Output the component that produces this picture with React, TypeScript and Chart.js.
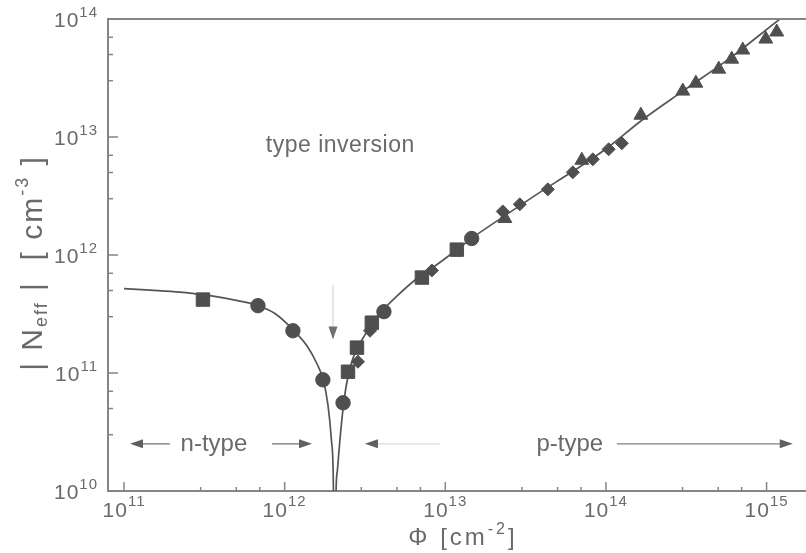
import React, { useEffect, useRef } from "react";
import { Chart, registerables } from "chart.js";

Chart.register(...registerables);

// ---- axes ----
const X_MIN = 7.95e10;
const X_MAX = 1.76e15;
const Y_MIN = 1e10;
const Y_MAX = 1e14;
const X_MAJOR_TICKS = [1e11, 1e12, 1e13, 1e14, 1e15];
const Y_MAJOR_TICKS = [1e10, 1e11, 1e12, 1e13, 1e14];
const MINOR_MULTIPLES = [3, 5, 7];

// ---- fitted curve ----
const fitPhi = [
  1.0e11, 1.451e11, 2.231e11, 3.43e11, 5.27e11, 6.82e11, 8.7e11, 1.126e12, 1.376e12, 1.589e12,
  1.731e12, 1.86e12, 1.955e12, 2.006e12, 2.05e12, 2.09e12, 2.131e12, 2.209e12, 2.306e12, 2.424e12,
  2.586e12, 2.818e12, 3.114e12, 3.494e12, 4.03e12, 4.997e12, 6.66e12, 8.37e12, 1.068e13, 1.485e13,
  2.417e13, 3.879e13, 6.223e13, 1.013e14, 1.673e14, 3.01e14, 6.16e14, 1.261e15, 1.498e15,
];
const fitNeff = [
  5.19e11, 5.04e11, 4.85e11, 4.53e11, 4.07e11, 3.72e11, 3.19e11, 2.33e11, 1.7e11, 1.198e11,
  8.94e10, 5.38e10, 2.71e10, 1.367e10, 1e9, 1.0e10, 1.508e10, 2.71e10, 4.87e10, 7.95e10,
  1.175e11, 1.607e11, 2.032e11, 2.62e11, 3.345e11, 4.485e11, 6.32e11, 7.83e11, 1.0e12, 1.408e12,
  2.208e12, 3.395e12, 5.118e12, 8.03e12, 1.388e13, 2.446e13, 4.85e13, 1.04e14, 1.228e14,
];

// ---- measured points ----
const squarePhi = [3.1e11, 2.48e12, 2.82e12, 3.49e12, 7.15e12, 1.18e13];
const squareNeff = [4.19e11, 1.025e11, 1.64e11, 2.67e11, 6.44e11, 1.11e12];

const circlePhi = [6.82e11, 1.126e12, 1.73e12, 2.31e12, 4.15e12, 1.46e13];
const circleNeff = [3.72e11, 2.28e11, 8.76e10, 5.59e10, 3.31e11, 1.38e12];

const diamondPhi = [2.86e12, 3.4e12, 8.25e12, 2.28e13, 2.91e13, 4.35e13, 6.22e13, 8.29e13, 1.04e14, 1.256e14];
const diamondNeff = [1.246e11, 2.28e11, 7.39e11, 2.34e12, 2.69e12, 3.6e12, 5.02e12, 6.47e12, 7.87e12, 8.85e12];

const trianglePhi = [2.35e13, 7.08e13, 1.65e14, 3.01e14, 3.63e14, 5.04e14, 6.07e14, 7.11e14, 9.89e14, 1.157e15];
const triangleNeff = [2.04e12, 6.35e12, 1.53e13, 2.45e13, 2.86e13, 3.76e13, 4.57e13, 5.46e13, 6.76e13, 7.76e13];

// ---- annotation anchors (data coordinates) ----
const INVERSION_LABEL = { phi: 2.22e12, neff: 7.42e12, text: "type inversion" };
const INVERSION_ARROW = { phi: 2.0e12, from: 5.6e11, to: 1.92e11 };
const REGION_ARROW_NEFF = 2.51e10;
const REGION_LABEL_NEFF = 2.19e10;
const N_TYPE = { text: "n-type", center: 3.63e11, leftTip: 1.09e11, leftTail: 1.93e11, rightTail: 8.34e11, rightTip: 1.48e12 };
const P_TYPE = { text: "p-type", center: 5.96e13, leftTip: 3.16e12, leftTail: 9.25e12, rightTail: 1.17e14, rightTip: 1.456e15 };

// ---- styles ----
const TEXT = "#6a6a6a";
const AXIS = "#858585";
const INK = "#4f4f4f";
const FONT = "'Liberation Sans', Arial, sans-serif";

const pts = (xs: number[], ys: number[]) => xs.map((x, i) => ({ x, y: ys[i] }));

type Seg = { text: string; size: number; dy: number };

function setFont(ctx: CanvasRenderingContext2D, size: number, spacing: number) {
  ctx.font = `${size}px ${FONT}`;
  (ctx as any).letterSpacing = `${spacing}px`;
}

function richWidth(ctx: CanvasRenderingContext2D, segs: Seg[], spacing: number) {
  let w = 0;
  for (const s of segs) {
    setFont(ctx, s.size, spacing);
    w += ctx.measureText(s.text).width;
  }
  return w;
}

function drawRich(ctx: CanvasRenderingContext2D, segs: Seg[], x: number, y: number, spacing: number) {
  ctx.textAlign = "left";
  ctx.textBaseline = "alphabetic";
  let cx = x;
  for (const s of segs) {
    setFont(ctx, s.size, spacing);
    ctx.fillText(s.text, cx, y + s.dy);
    cx += ctx.measureText(s.text).width;
  }
}

function arrow(
  ctx: CanvasRenderingContext2D,
  x1: number, y1: number, x2: number, y2: number,
  lineColor: string, headColor: string, head = 13, half = 4.5,
) {
  const ang = Math.atan2(y2 - y1, x2 - x1);
  ctx.strokeStyle = lineColor;
  ctx.lineWidth = 1.4;
  ctx.beginPath();
  ctx.moveTo(x1, y1);
  ctx.lineTo(x2 - Math.cos(ang) * head * 0.6, y2 - Math.sin(ang) * head * 0.6);
  ctx.stroke();
  ctx.fillStyle = headColor;
  ctx.beginPath();
  ctx.moveTo(x2, y2);
  ctx.lineTo(x2 - Math.cos(ang) * head - Math.sin(ang) * half, y2 - Math.sin(ang) * head + Math.cos(ang) * half);
  ctx.lineTo(x2 - Math.cos(ang) * head + Math.sin(ang) * half, y2 - Math.sin(ang) * head - Math.cos(ang) * half);
  ctx.closePath();
  ctx.fill();
}

const decorPlugin = {
  id: "decor",
  afterDraw(chart: any) {
    const { ctx, chartArea: a } = chart;
    const xs = chart.scales.x;
    const ys = chart.scales.y;
    ctx.save();

    // top frame line
    ctx.strokeStyle = AXIS;
    ctx.lineWidth = 2;
    ctx.beginPath();
    ctx.moveTo(a.left, a.top);
    ctx.lineTo(a.right, a.top);
    ctx.stroke();

    // inward tick marks
    ctx.lineWidth = 1.5;
    const tickSet = (min: number, max: number) => {
      const out: { v: number; major: boolean }[] = [];
      for (let d = Math.floor(Math.log10(min)); d <= Math.ceil(Math.log10(max)); d++) {
        const p = Math.pow(10, d);
        if (p >= min && p <= max) out.push({ v: p, major: true });
        for (const m of MINOR_MULTIPLES) {
          const v = m * p;
          if (v >= min && v <= max) out.push({ v, major: false });
        }
      }
      return out;
    };
    for (const t of tickSet(X_MIN, X_MAX)) {
      const px = xs.getPixelForValue(t.v);
      const len = t.major ? 9 : 4;
      ctx.beginPath();
      ctx.moveTo(px, a.bottom);
      ctx.lineTo(px, a.bottom - len);
      ctx.stroke();
    }
    for (const t of tickSet(Y_MIN, Y_MAX)) {
      const py = ys.getPixelForValue(t.v);
      const len = t.major ? 10 : 5;
      ctx.beginPath();
      ctx.moveTo(a.left, py);
      ctx.lineTo(a.left + len, py);
      ctx.stroke();
    }

    // tick labels 10^n
    ctx.fillStyle = TEXT;
    for (const v of X_MAJOR_TICKS) {
      const px = xs.getPixelForValue(v);
      const e = String(Math.round(Math.log10(v)));
      const segs: Seg[] = [
        { text: "10", size: 21, dy: 0 },
        { text: e, size: 15, dy: -11 },
      ];
      const w = richWidth(ctx, segs, 1);
      drawRich(ctx, segs, px - w / 2, a.bottom + 26, 1);
    }
    for (const v of Y_MAJOR_TICKS) {
      const py = ys.getPixelForValue(v);
      const e = String(Math.round(Math.log10(v)));
      const segs: Seg[] = [
        { text: "10", size: 21, dy: 0 },
        { text: e, size: 15, dy: -10 },
      ];
      const w = richWidth(ctx, segs, 1);
      drawRich(ctx, segs, a.left - 10 - w, py + 8, 1);
    }

    // x-axis title: Φ [cm^-2]
    const xt: Seg[] = [
      { text: "Φ [cm", size: 24, dy: 0 },
      { text: "-2", size: 16, dy: -11 },
      { text: "]", size: 24, dy: 0 },
    ];
    const xw = richWidth(ctx, xt, 3);
    drawRich(ctx, xt, 463 - xw / 2, 545, 3);

    // y-axis title: |N_eff| [cm^-3]
    const yt: Seg[] = [
      { text: "| N", size: 30, dy: 0 },
      { text: "eff", size: 18, dy: 5 },
      { text: " |  [ cm", size: 30, dy: 0 },
      { text: "-3", size: 18, dy: -14 },
      { text: " ]", size: 30, dy: 0 },
    ];
    const yw = richWidth(ctx, yt, 2);
    ctx.save();
    ctx.translate(42, 263);
    ctx.rotate(-Math.PI / 2);
    drawRich(ctx, yt, -yw / 2, 0, 2);
    ctx.restore();

    // annotations
    const X = (v: number) => xs.getPixelForValue(v);
    const Y = (v: number) => ys.getPixelForValue(v);
    ctx.fillStyle = TEXT;
    setFont(ctx, 23, 0.5);
    ctx.textAlign = "center";
    ctx.textBaseline = "alphabetic";
    ctx.fillText(INVERSION_LABEL.text, X(INVERSION_LABEL.phi), Y(INVERSION_LABEL.neff));
    arrow(ctx, X(INVERSION_ARROW.phi), Y(INVERSION_ARROW.from), X(INVERSION_ARROW.phi), Y(INVERSION_ARROW.to), "#dddddd", "#707070", 13, 4.5);

    const ay = Y(REGION_ARROW_NEFF);
    const ly = Y(REGION_LABEL_NEFF);
    for (const r of [N_TYPE, P_TYPE]) {
      ctx.fillStyle = TEXT;
      setFont(ctx, 24, 0);
      ctx.textAlign = "center";
      ctx.fillText(r.text, X(r.center), ly);
    }
    arrow(ctx, X(N_TYPE.leftTail), ay, X(N_TYPE.leftTip), ay, "#707070", "#606060");
    arrow(ctx, X(N_TYPE.rightTail), ay, X(N_TYPE.rightTip), ay, "#707070", "#606060");
    arrow(ctx, X(P_TYPE.leftTail), ay, X(P_TYPE.leftTip), ay, "#dcdcdc", "#606060");
    arrow(ctx, X(P_TYPE.rightTail), ay, X(P_TYPE.rightTip), ay, "#808080", "#606060");

    ctx.restore();
  },
};

export default function App() {
  const ref = useRef<HTMLCanvasElement | null>(null);

  useEffect(() => {
    if (!ref.current) return;
    const markerBase = {
      showLine: false,
      backgroundColor: INK,
      borderColor: INK,
      borderWidth: 1,
      order: 0,
    };
    const chart = new Chart(ref.current, {
      type: "scatter",
      data: {
        datasets: [
          { ...markerBase, label: "squares", data: pts(squarePhi, squareNeff), pointStyle: "rect", pointRadius: 9.5 },
          { ...markerBase, label: "circles", data: pts(circlePhi, circleNeff), pointStyle: "circle", pointRadius: 7.2 },
          { ...markerBase, label: "diamonds", data: pts(diamondPhi, diamondNeff), pointStyle: "rectRot", pointRadius: 6.5 },
          { ...markerBase, label: "triangles", data: pts(trianglePhi, triangleNeff), pointStyle: "triangle", pointRadius: 8 },
          {
            label: "fit",
            data: pts(fitPhi, fitNeff),
            showLine: true,
            pointRadius: 0,
            borderColor: "#555555",
            borderWidth: 1.7,
            cubicInterpolationMode: "monotone",
            order: 10,
          } as any,
        ],
      },
      options: {
        animation: false,
        responsive: true,
        maintainAspectRatio: false,
        layout: { autoPadding: false, padding: { top: 19, right: 0, left: 0, bottom: 0 } },
        plugins: { legend: { display: false }, tooltip: { enabled: false } },
        events: [],
        scales: {
          x: {
            type: "logarithmic",
            min: X_MIN,
            max: X_MAX,
            afterBuildTicks: (s: any) => {
              s.ticks = X_MAJOR_TICKS.map((v) => ({ value: v }));
            },
            afterFit: (s: any) => {
              s.height = 62;
            },
            ticks: { display: false },
            grid: { display: false, drawTicks: false },
            border: { display: true, color: AXIS, width: 2 },
          },
          y: {
            type: "logarithmic",
            min: Y_MIN,
            max: Y_MAX,
            afterBuildTicks: (s: any) => {
              s.ticks = Y_MAJOR_TICKS.map((v) => ({ value: v }));
            },
            afterFit: (s: any) => {
              s.width = 108;
            },
            ticks: { display: false },
            grid: { display: false, drawTicks: false },
            border: { display: true, color: AXIS, width: 2 },
          },
        },
      } as any,
      plugins: [decorPlugin],
    });
    return () => chart.destroy();
  }, []);

  return (
    <div style={{ position: "absolute", left: 0, top: 0, width: 806, height: 553, background: "#fff" }}>
      <canvas ref={ref} />
    </div>
  );
}
